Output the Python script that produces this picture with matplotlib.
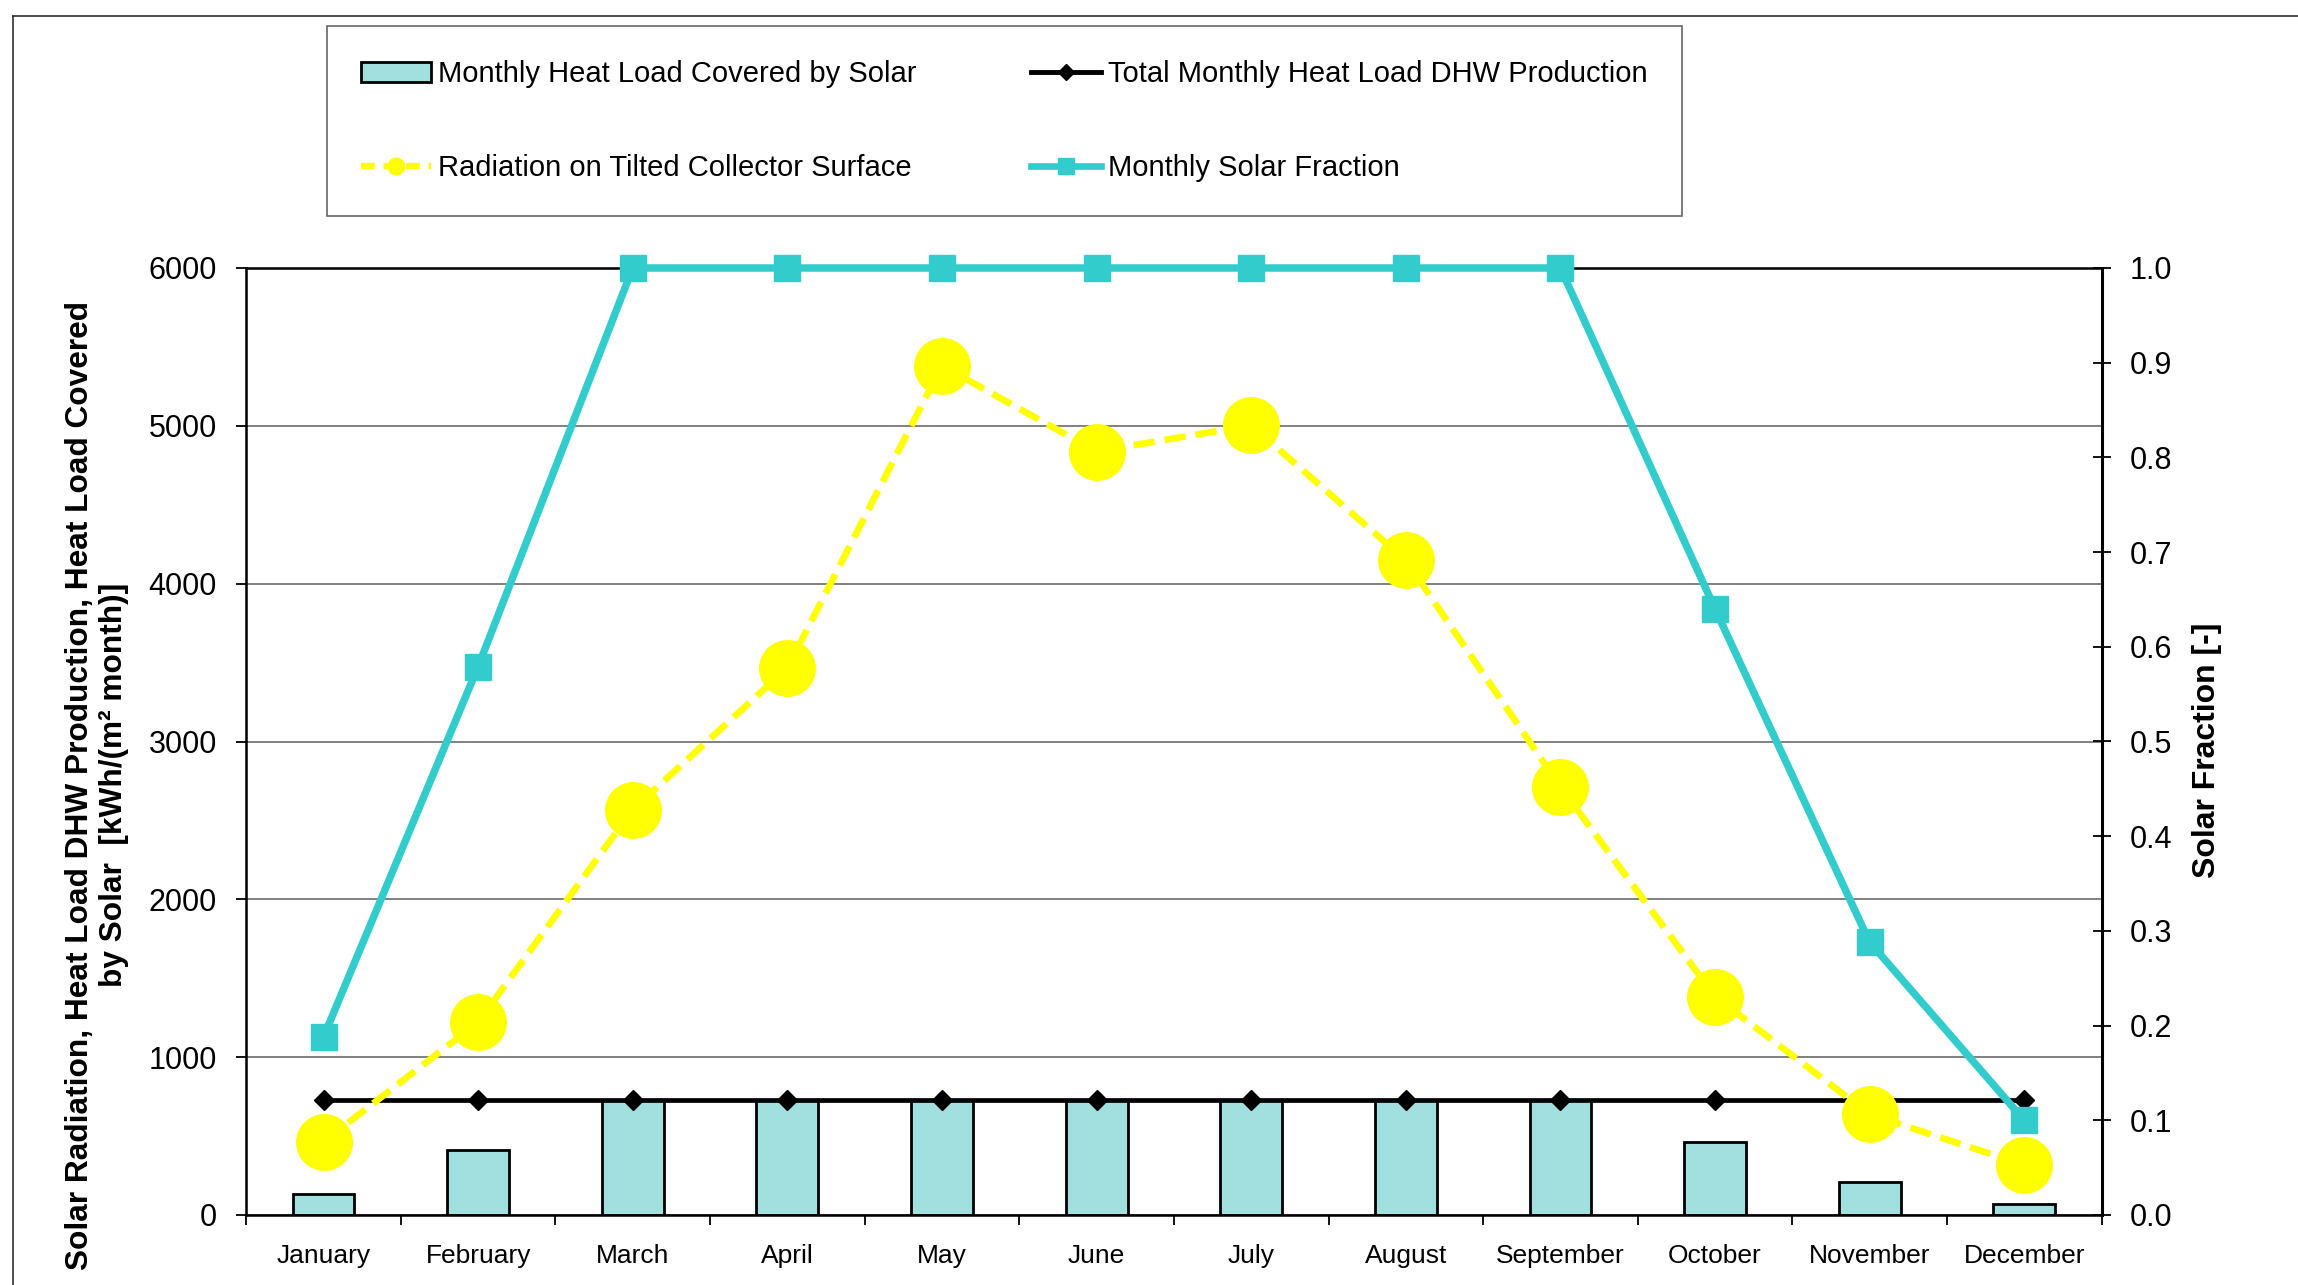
import matplotlib.pyplot as plt
import numpy as np
from matplotlib.lines import Line2D
from matplotlib.patches import Patch

plt.rcParams['font.family'] = ['Liberation Sans', 'DejaVu Sans']

months = ['January', 'February', 'March', 'April', 'May', 'June',
          'July', 'August', 'September', 'October', 'November', 'December']

# kWh/(m2 month)
covered_by_solar = [135, 412, 726, 726, 726, 726, 726, 726, 726, 460, 206, 67]
total_heat_load = [726, 726, 726, 726, 726, 726, 726, 726, 726, 726, 726, 726]
radiation = [464, 1221, 2569, 3466, 5381, 4837, 5004, 4148, 2712, 1384, 638, 317]
# [-]
solar_fraction = [0.188, 0.579, 1.0, 1.0, 1.0, 1.0, 1.0, 1.0, 1.0, 0.640, 0.288, 0.100]

bar_col = '#a2e0e0'
teal = '#33cccc'
yellow = '#ffff00'

W, H = 2298, 1285
fig = plt.figure(figsize=(W / 100, H / 100), dpi=100)
ax = fig.add_axes([246.2 / W, 70 / H, 1855.4 / W, 947 / H])

x = np.arange(len(months))

ax.bar(x, covered_by_solar, width=0.4, color=bar_col, edgecolor='black', linewidth=2, zorder=2)
ax.plot(x, total_heat_load, color='black', lw=3.4, marker='D', ms=10, zorder=3, clip_on=False)
ax.plot(x, radiation, color=yellow, lw=4.8, ls=(0, (3.2, 1.5)), marker='o', ms=40,
        markeredgecolor=yellow, zorder=4, clip_on=False)

ax.set_xlim(-0.5, 11.5)
ax.set_ylim(0, 6000)
ax.set_yticks(np.arange(0, 6001, 1000))
ax.yaxis.grid(True, color='#808080', lw=1.4)
ax.set_axisbelow(True)
ax.set_xticks(x)
ax.set_xticklabels(months, fontsize=19)
ax.set_xticks(np.arange(-0.5, 12, 1), minor=True)
ax.tick_params(axis='x', which='major', length=0, pad=21)
ax.tick_params(axis='x', which='minor', length=7, width=1.3, direction='out')
ax.tick_params(axis='y', length=7, width=1.3, direction='out', labelsize=22, pad=14)
for s in ax.spines.values():
    s.set_linewidth(1.8)

ax2 = ax.twinx()
ax2.plot(x, solar_fraction, color=teal, lw=5.4, marker='s', ms=19, zorder=5, clip_on=False)
ax2.set_ylim(0, 1)
ax2.set_yticks(np.arange(0, 1.01, 0.1))
ax2.set_yticklabels(['%.1f' % v for v in np.arange(0, 1.01, 0.1)])
ax2.tick_params(axis='y', length=13, width=1.3, direction='inout', labelsize=22, pad=14)
ax2.spines['right'].set_linewidth(2.2)

fig.text(97 / W, 1 - 785 / H,
         'Solar Radiation, Heat Load DHW Production, Heat Load Covered\nby Solar  [kWh/(m² month)]',
         rotation=90, ha='center', va='center', fontsize=22.8, fontweight='bold',
         multialignment='center', linespacing=1.2)
fig.text(2207 / W, 1 - 750 / H, 'Solar Fraction [-]', rotation=90, ha='center', va='center',
         fontsize=23, fontweight='bold')

# legend is filled column by column
handles = [
    Patch(facecolor=bar_col, edgecolor='black', linewidth=2),
    Line2D([], [], color=yellow, lw=4.5, ls=(0, (2.2, 1.4)), marker='o', ms=12, markeredgecolor=yellow),
    Line2D([], [], color='black', lw=3.5, marker='D', ms=8),
    Line2D([], [], color=teal, lw=4.8, marker='s', ms=11),
]
labels = ['Monthly Heat Load Covered by Solar', 'Radiation on Tilted Collector Surface',
          'Total Monthly Heat Load DHW Production', 'Monthly Solar Fraction']
leg = fig.legend(handles, labels, ncol=2, loc='upper left',
                 bbox_to_anchor=(327 / W, 1 - 212 / H, 1355 / W, 186 / H), mode='expand',
                 borderaxespad=0, fontsize=21, frameon=True, fancybox=False, shadow=False,
                 edgecolor='#404040', labelspacing=2.25, borderpad=1.17, handlelength=2.4,
                 handletextpad=0.25, numpoints=1)
leg.get_frame().set_linewidth(1.2)

# outer chart-area border
fig.add_artist(Line2D([13 / W, 13 / W], [0, 1 - 16 / H], color='#303030', lw=1.2))
fig.add_artist(Line2D([13 / W, 1], [1 - 16 / H, 1 - 16 / H], color='#303030', lw=1.2))

fig.savefig('out.png', dpi=100)
